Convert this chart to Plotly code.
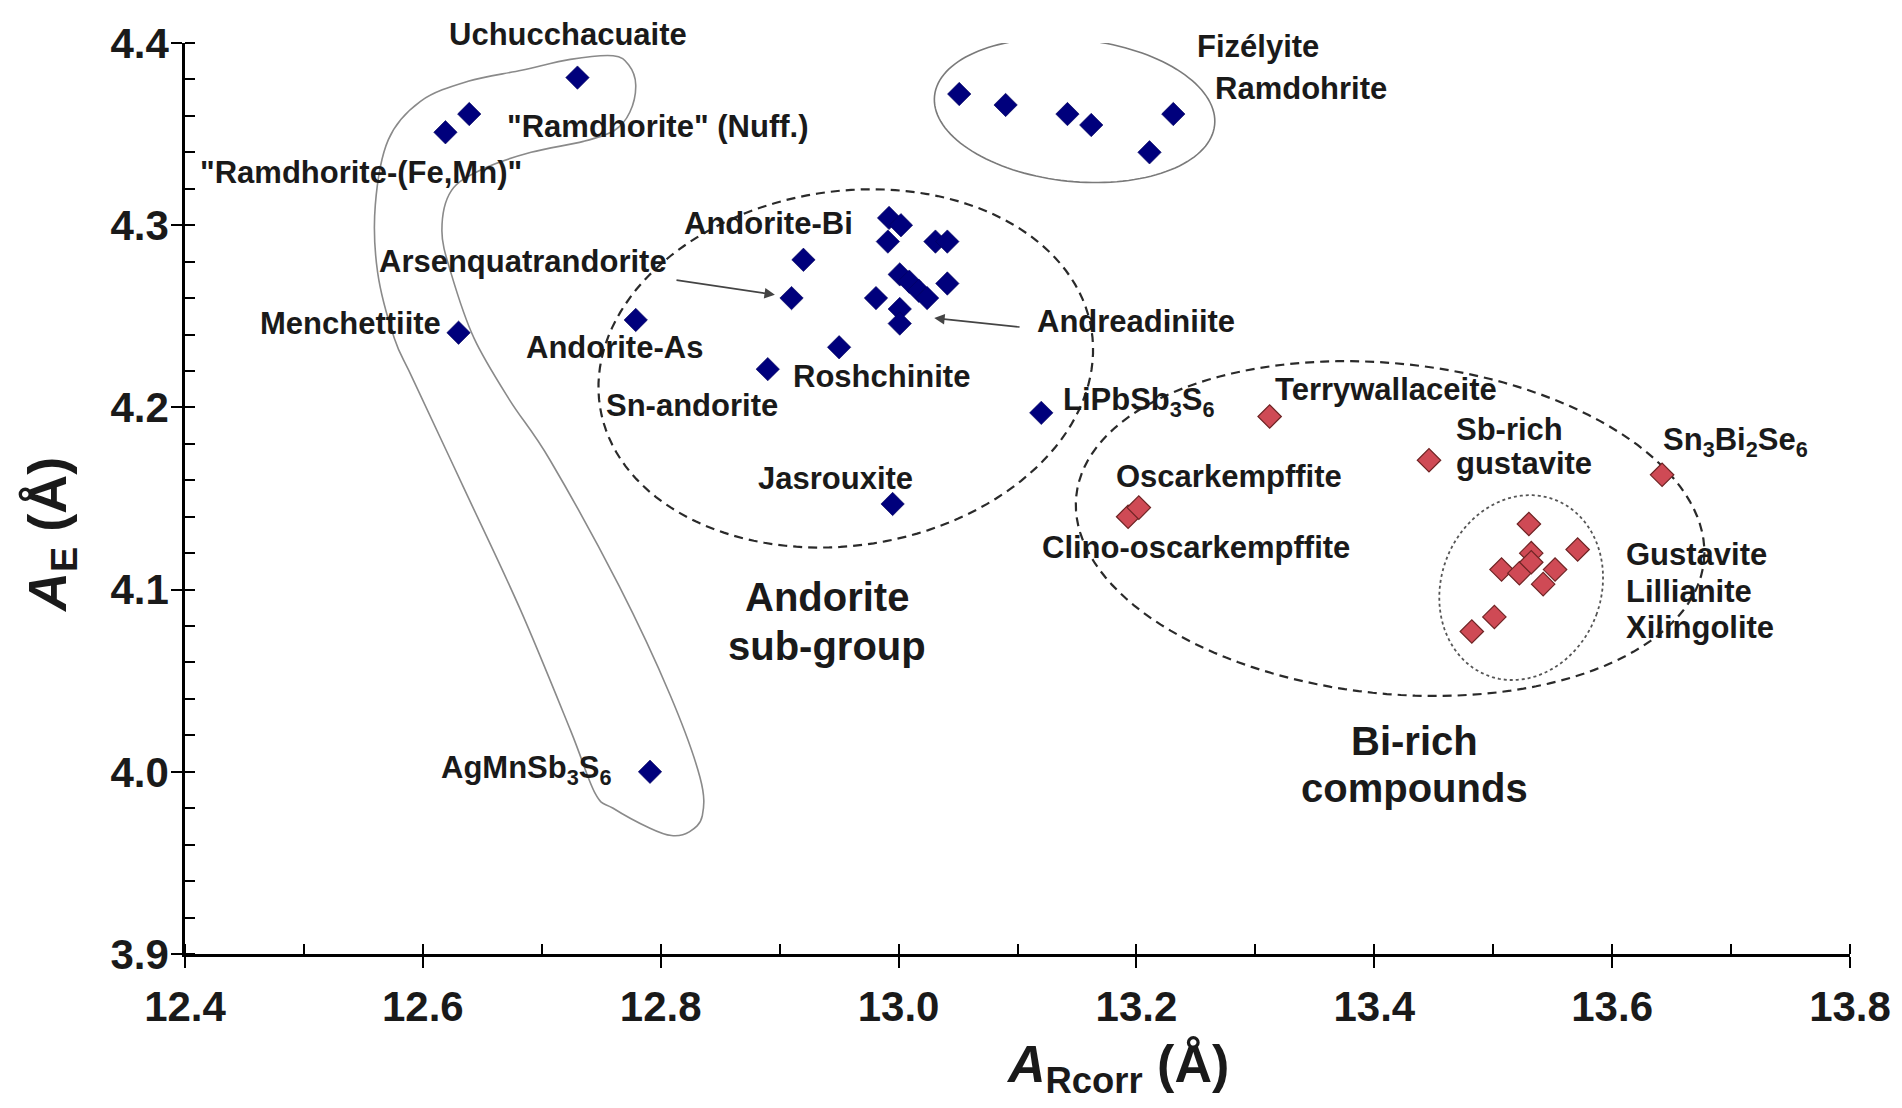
import numpy as np
import plotly.graph_objects as go

# ---------------- data ----------------
blue_x = [12.730, 12.639, 12.619, 12.630, 12.791,
          13.051, 13.090, 13.142, 13.162, 13.211, 13.231,
          12.779, 12.890, 12.950, 12.910, 12.920,
          12.992, 13.002, 12.991, 13.031, 13.041,
          13.001, 13.009, 13.017, 13.024, 13.041, 12.981, 13.001, 13.001,
          12.995, 13.120]
blue_y = [4.381, 4.361, 4.351, 4.241, 4.000,
          4.372, 4.366, 4.361, 4.355, 4.340, 4.361,
          4.248, 4.221, 4.233, 4.260, 4.281,
          4.304, 4.300, 4.291, 4.291, 4.291,
          4.273, 4.269, 4.264, 4.260, 4.268, 4.260, 4.254, 4.246,
          4.147, 4.197]

red_x = [13.312, 13.446, 13.642, 13.193, 13.202,
         13.530, 13.571, 13.507, 13.522, 13.532, 13.532, 13.552, 13.542, 13.501, 13.482]
red_y = [4.195, 4.171, 4.163, 4.140, 4.145,
         4.136, 4.122, 4.111, 4.109, 4.120, 4.115, 4.111, 4.103, 4.085, 4.077]

x_ticks = [12.4, 12.6, 12.8, 13.0, 13.2, 13.4, 13.6, 13.8]
y_ticks = [3.9, 4.0, 4.1, 4.2, 4.3, 4.4]

label_text = ['"Ramdhorite" (Nuff.)', '"Ramdhorite-(Fe,Mn)"',
              "Fizélyite", "Ramdohrite", "Andorite-Bi", "Arsenquatrandorite",
              "Menchettiite", "Andorite-As", "Andreadiniite", "Roshchinite",
              "Sn-andorite", "LiPbSb<sub>3</sub>S<sub>6</sub>", "Terrywallaceite",
              "Sn<sub>3</sub>Bi<sub>2</sub>Se<sub>6</sub>", "Oscarkempffite",
              "Clino-oscarkempffite", "Jasrouxite", "AgMnSb<sub>3</sub>S<sub>6</sub>"]
label_x = [12.797, 12.548, 13.302, 13.338, 12.891, 12.684, 12.539, 12.761,
           13.200, 12.986, 12.826, 13.202, 13.410, 13.704, 13.278, 13.250, 12.947, 12.687]
label_y = [4.354, 4.329, 4.398, 4.375, 4.301, 4.280, 4.246, 4.233,
           4.247, 4.217, 4.201, 4.203, 4.210, 4.181, 4.162, 4.123, 4.161, 4.001]

# label sitting above the top of the y range
top_text = "Uchucchacuaite"
top_x = 12.722

left_text = ["Sb-rich", "gustavite", "Gustavite", "Lillianite", "Xilingolite"]
left_x = [13.467, 13.467, 13.610, 13.610, 13.610]
left_y = [4.188, 4.169, 4.119, 4.099, 4.079]

group_text = ["Andorite", "sub-group", "Bi-rich", "compounds"]
group_x = [12.940, 12.940, 13.434, 13.434]
group_y = [4.096, 4.069, 4.017, 3.991]

# arrows: (head x, head y, tail x, tail y)
arrows = [(12.896, 4.2618, 12.812, 4.270), (13.030, 4.249, 13.103, 4.244)]

# outline around the Uchucchacuaite-Menchettiite-AgMnSb3S6 group (data coords)
loop_x = [12.760, 12.773, 12.779, 12.774, 12.761, 12.735, 12.691, 12.651, 12.624, 12.616,
          12.624, 12.643, 12.673, 12.707, 12.765, 12.808, 12.833, 12.835, 12.824, 12.809,
          12.791, 12.760, 12.745, 12.724, 12.682, 12.635, 12.592, 12.576, 12.562, 12.560,
          12.571, 12.598, 12.638, 12.683, 12.724]
loop_y = [4.393, 4.388, 4.377, 4.362, 4.352, 4.346, 4.340, 4.331, 4.319, 4.297,
          4.273, 4.238, 4.204, 4.171, 4.102, 4.042, 3.997, 3.976, 3.967, 3.965,
          3.969, 3.980, 3.988, 4.023, 4.089, 4.155, 4.215, 4.238, 4.274, 4.311,
          4.347, 4.368, 4.379, 4.385, 4.391]

# ellipses: centre x, centre y, semi-axis (x units), semi-axis (y units), angle (deg)
ell_fizelyite = (13.148, 4.363, 0.1184, 0.0390, -6)
ell_andorite = (12.9556, 4.2214, 0.2092, 0.0972, 9)
ell_birich = (13.4133, 4.1335, 0.2653, 0.0906, -6)
ell_gustavite = (13.5235, 4.1011, 0.0673, 0.0516, -20)

# ---------------- layout constants ----------------
W, H = 1902, 1108
ML, MR, MT, MB = 177, 60, 29, 162
PXX = (W - ML - MR) / 1.4
PXY = (H - MT - MB) / 0.5
FONT = "Arial, Liberation Sans, sans-serif"


def ellipse_path(p, n=140):
    cx, cy, a, b, ang = p
    t = np.linspace(0, 2 * np.pi, n, endpoint=False)
    th = np.radians(ang)
    ax, by = a * PXX, b * PXY
    xp = ax * np.cos(t) * np.cos(th) - by * np.sin(t) * np.sin(th)
    yp = ax * np.cos(t) * np.sin(th) + by * np.sin(t) * np.cos(th)
    xs = cx + xp / PXX
    ys = cy + yp / PXY
    return "M " + " L ".join(f"{x:.5f},{y:.5f}" for x, y in zip(xs, ys)) + " Z"


def smooth_closed_path(xs, ys):
    P = np.array(list(zip(xs, ys)))
    n = len(P)
    s = f"M {P[0][0]:.5f},{P[0][1]:.5f}"
    for i in range(n):
        p0, p1, p2, p3 = P[i - 1], P[i], P[(i + 1) % n], P[(i + 2) % n]
        c1 = p1 + (p2 - p0) / 6
        c2 = p2 - (p3 - p1) / 6
        s += f" C {c1[0]:.5f},{c1[1]:.5f} {c2[0]:.5f},{c2[1]:.5f} {p2[0]:.5f},{p2[1]:.5f}"
    return s + " Z"


fig = go.Figure()
fig.add_trace(go.Scatter(x=blue_x, y=blue_y, mode="markers",
                         marker=dict(symbol="diamond", size=18, color="#00007c",
                                     line=dict(color="#00005a", width=0.6)),
                         hoverinfo="skip", showlegend=False))
fig.add_trace(go.Scatter(x=red_x, y=red_y, mode="markers",
                         marker=dict(symbol="diamond", size=18, color="#cf4a55",
                                     line=dict(color="#6e2424", width=1.2)),
                         hoverinfo="skip", showlegend=False))
# invisible trace to activate the overlay axes (inner half of the crossing major ticks)
fig.add_trace(go.Scatter(x=red_x, y=red_y, mode="markers", xaxis="x2", yaxis="y2",
                         marker=dict(opacity=0), hoverinfo="skip", showlegend=False))

shapes = [
    dict(type="path", path=smooth_closed_path(loop_x, loop_y), xref="x", yref="y",
         line=dict(color="#8a8a8a", width=1.6), layer="below"),
    dict(type="path", path=ellipse_path(ell_fizelyite), xref="x", yref="y",
         line=dict(color="#7a7a7a", width=1.6), layer="below"),
    dict(type="path", path=ellipse_path(ell_andorite), xref="x", yref="y",
         line=dict(color="#2a2a2a", width=2.2, dash="9px,6px"), layer="below"),
    dict(type="path", path=ellipse_path(ell_birich), xref="x", yref="y",
         line=dict(color="#2a2a2a", width=2.2, dash="9px,6px"), layer="below"),
    dict(type="path", path=ellipse_path(ell_gustavite), xref="x", yref="y",
         line=dict(color="#555555", width=1.8, dash="dot"), layer="below"),
]

annotations = []
lab_font = dict(family=FONT, size=31, color="#1a1a1a", weight="bold")
for t, x, y in zip(label_text, label_x, label_y):
    annotations.append(dict(text=t, x=x, y=y, xref="x", yref="y", showarrow=False,
                            xanchor="center", yanchor="middle", font=lab_font))
annotations.append(dict(text=top_text, x=top_x, y=4.4, yshift=9, xref="x", yref="y",
                        showarrow=False, xanchor="center", yanchor="middle", font=lab_font))
for t, x, y in zip(left_text, left_x, left_y):
    annotations.append(dict(text=t, x=x, y=y, xref="x", yref="y", showarrow=False,
                            xanchor="left", yanchor="middle", font=lab_font))
for t, x, y in zip(group_text, group_x, group_y):
    annotations.append(dict(text=t, x=x, y=y, xref="x", yref="y", showarrow=False,
                            xanchor="center", yanchor="middle",
                            font=dict(family=FONT, size=40, color="#1a1a1a", weight="bold")))
for hx, hy, tx, ty in arrows:
    annotations.append(dict(text="", x=hx, y=hy, ax=tx, ay=ty, xref="x", yref="y",
                            axref="x", ayref="y", showarrow=True, arrowhead=2,
                            arrowsize=1.3, arrowwidth=1.6, arrowcolor="#444444", standoff=0))

# axis titles
annotations.append(dict(text="<i>A</i><sub>Rcorr</sub> (Å)", xref="paper", yref="paper",
                        x=0.560, y=-0.1254, xanchor="center", yanchor="middle",
                        showarrow=False,
                        font=dict(family=FONT, size=52, color="#1a1a1a", weight="bold")))
annotations.append(dict(text="<i>A</i><sub>E</sub> (Å)", xref="paper", yref="paper",
                        x=0, xshift=-134, y=0.460, xanchor="center", yanchor="middle",
                        textangle=-90, showarrow=False,
                        font=dict(family=FONT, size=54, color="#1a1a1a", weight="bold")))

tickfont = dict(family=FONT, size=42, color="#1a1a1a", weight="bold")
common = dict(showgrid=False, zeroline=False, showline=True, linecolor="black", linewidth=2.5,
              ticks="outside", ticklen=11, tickwidth=2.2, tickcolor="black",
              tickfont=tickfont, tickformat=".1f")

fig.update_layout(
    width=W, height=H,
    margin=dict(l=ML, r=MR, t=MT, b=MB),
    paper_bgcolor="white", plot_bgcolor="white",
    showlegend=False,
    xaxis=dict(range=[12.4, 13.8], tickmode="array", tickvals=x_ticks,
               ticklabelstandoff=3,
               minor=dict(ticks="inside", dtick=0.1, tick0=12.4, ticklen=10,
                          tickwidth=2, tickcolor="black"),
               **common),
    yaxis=dict(range=[3.9, 4.4], tickmode="array", tickvals=y_ticks,
               ticklabelstandoff=-6,
               minor=dict(ticks="inside", dtick=0.02, tick0=3.9, ticklen=10,
                          tickwidth=2, tickcolor="black"),
               **common),
    xaxis2=dict(overlaying="x", matches="x", anchor="y", side="bottom",
                range=[12.4, 13.8], tickmode="array", tickvals=x_ticks,
                ticks="inside", ticklen=9, tickwidth=2.2, tickcolor="black",
                showticklabels=False, showline=False, showgrid=False, zeroline=False),
    yaxis2=dict(overlaying="y", matches="y", anchor="x", side="left",
                range=[3.9, 4.4], tickmode="array", tickvals=y_ticks,
                ticks="inside", ticklen=9, tickwidth=2.2, tickcolor="black",
                showticklabels=False, showline=False, showgrid=False, zeroline=False),
    shapes=shapes,
    annotations=annotations,
)

fig.write_html("out.html")
